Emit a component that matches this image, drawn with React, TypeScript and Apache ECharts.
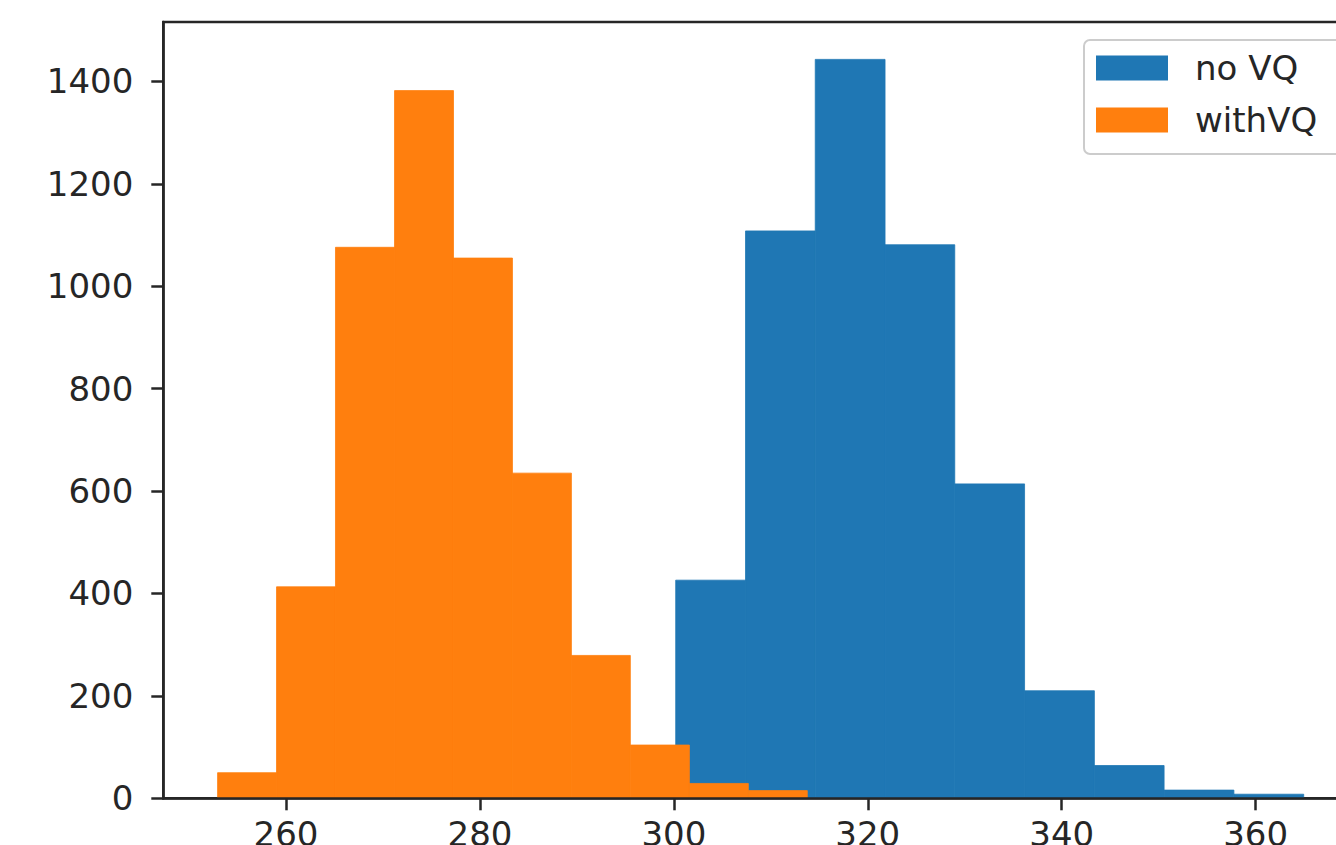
import React, { useEffect, useRef } from "react";
import * as echarts from "echarts";

// Histogram bin edges and counts
const noVQEdges = [300.19, 307.39, 314.58, 321.78, 328.97, 336.17, 343.37, 350.56, 357.76, 364.96];
const noVQCounts = [426, 1108, 1443, 1081, 614, 210, 64, 16, 8];
const withVQEdges = [252.94, 259.02, 265.1, 271.19, 277.27, 283.35, 289.43, 295.51, 301.6, 307.68, 313.76];
const withVQCounts = [50, 413, 1076, 1382, 1055, 635, 279, 104, 29, 15];

const xTicks = [260, 280, 300, 320, 340, 360];
const yTicks = [0, 200, 400, 600, 800, 1000, 1200, 1400];
const xMin = 247.34;
const xMax = 370.56;
const yMax = 1516;

const seriesNames = ["no VQ", "withVQ"];
const seriesColors = ["#1f77b4", "#ff7f0e"];

function toBins(edges: number[], counts: number[]) {
  return counts.map((c, i) => [edges[i], edges[i + 1], c]);
}

export default function App() {
  const ref = useRef<HTMLDivElement>(null);
  useEffect(() => {
    if (!ref.current) return;
    const chart = echarts.init(ref.current, null, { renderer: "svg" });
    const renderItem = (params: any, api: any) => {
      const p0 = api.coord([api.value(0), api.value(2)]);
      const p1 = api.coord([api.value(1), 0]);
      const color = api.visual("color");
      return {
        type: "rect",
        shape: { x: p0[0], y: p0[1], width: p1[0] - p0[0], height: p1[1] - p0[1] },
        style: { fill: color, stroke: color, lineWidth: 0.8 },
      };
    };
    const axisColor = "#262626";
    const font = "'DejaVu Sans', sans-serif";
    chart.setOption({
      animation: false,
      backgroundColor: "#ffffff",
      grid: {
        left: 163.3,
        top: 22,
        bottom: 46.7,
        right: -22,
        show: true,
        borderColor: axisColor,
        borderWidth: 2.5,
        containLabel: false,
        outerBoundsMode: "none",
      },
      legend: {
        orient: "vertical",
        left: 1084,
        top: 40,
        padding: [11, 40, 17, 12],
        itemWidth: 72,
        itemHeight: 25,
        itemGap: 18,
        icon: "rect",
        backgroundColor: "rgba(255,255,255,0.8)",
        borderColor: "#cccccc",
        borderWidth: 2,
        borderRadius: 6,
        textStyle: {
          fontFamily: font,
          fontSize: 34,
          lineHeight: 34,
          color: "#262626",
          padding: [0, 0, 0, 22],
        },
        data: seriesNames,
      },
      xAxis: {
        type: "value",
        min: xMin,
        max: xMax,
        z: 10,
        splitLine: { show: false },
        axisLine: { show: true, onZero: false, lineStyle: { color: axisColor, width: 2.5 } },
        axisTick: {
          show: true,
          length: 12,
          customValues: xTicks,
          lineStyle: { color: axisColor, width: 2.5 },
        },
        axisLabel: {
          customValues: xTicks,
          margin: 19,
          fontFamily: font,
          fontSize: 34,
          color: "#262626",
          formatter: (v: number) => String(v),
        },
      },
      yAxis: {
        type: "value",
        min: 0,
        max: yMax,
        z: 10,
        splitLine: { show: false },
        axisLine: { show: true, lineStyle: { color: axisColor, width: 2.5 } },
        axisTick: {
          show: true,
          length: 12,
          customValues: yTicks,
          lineStyle: { color: axisColor, width: 2.5 },
        },
        axisLabel: {
          customValues: yTicks,
          margin: 30,
          fontFamily: font,
          fontSize: 34,
          color: "#262626",
          formatter: (v: number) => String(v),
        },
      },
      series: [
        {
          name: seriesNames[0],
          type: "custom",
          renderItem,
          itemStyle: { color: seriesColors[0] },
          encode: { x: [0, 1], y: 2 },
          data: toBins(noVQEdges, noVQCounts),
          clip: true,
        },
        {
          name: seriesNames[1],
          type: "custom",
          renderItem,
          itemStyle: { color: seriesColors[1] },
          encode: { x: [0, 1], y: 2 },
          data: toBins(withVQEdges, withVQCounts),
          clip: true,
        },
      ],
    });
    return () => chart.dispose();
  }, []);
  return (
    <div
      ref={ref}
      style={{ position: "absolute", left: 0, top: 0, width: 1336, height: 845 }}
    />
  );
}
